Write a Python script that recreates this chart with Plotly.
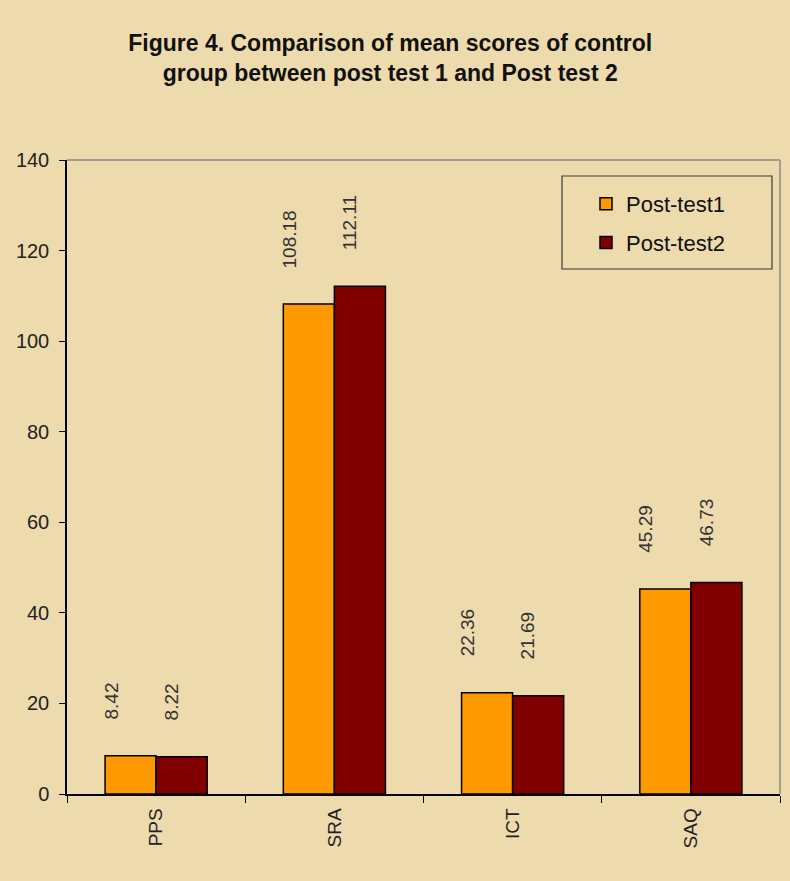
import plotly.graph_objects as go

categories = ["PPS", "SRA", "ICT", "SAQ"]
post_test1 = [8.42, 108.18, 22.36, 45.29]
post_test2 = [8.22, 112.11, 21.69, 46.73]
series_names = ["Post-test1", "Post-test2"]
series_colors = ["#FF9900", "#800000"]

W, H = 790, 881
L, R, T, B = 67, 10, 160, 87
pw = W - L - R
ph = H - T - B

def px_x(p):
    return (p - L) / pw

def px_y(p):
    return (H - B - p) / ph

fig = go.Figure()
for name, vals, col in zip(series_names, [post_test1, post_test2], series_colors):
    fig.add_trace(go.Bar(
        x=categories, y=vals, name=name, legendgroup=name,
        marker=dict(color=col, line=dict(color="#000000", width=1.5)),
    ))

ann = []
label_font = dict(family="Liberation Sans, Arial, sans-serif", size=19, color="#333333")
for i, vals in enumerate([post_test1, post_test2]):
    xs = -45 if i == 0 else 15
    for c, v in zip(categories, vals):
        ann.append(dict(
            x=c, y=v, xref="x", yref="y", text=f"{v:.2f}", showarrow=False,
            textangle=-90, yanchor="bottom", xanchor="center",
            xshift=xs, yshift=34, font=label_font,
        ))

shapes = [
    dict(type="line", xref="paper", yref="paper", x0=0, x1=1, y0=1, y1=1,
         line=dict(color="#8a8a8a", width=1.5)),
    dict(type="line", xref="paper", yref="paper", x0=1, x1=1, y0=0, y1=1,
         line=dict(color="#8a8a8a", width=1.5)),
    dict(type="rect", xref="paper", yref="paper",
         x0=px_x(562), x1=px_x(772), y0=px_y(269), y1=px_y(176),
         line=dict(color="#3a3a3a", width=1.2)),
]

fig.update_layout(
    width=W, height=H,
    margin=dict(l=L, r=R, t=T, b=B, pad=0),
    paper_bgcolor="#EEDBAD",
    plot_bgcolor="rgba(0,0,0,0)",
    barmode="group", bargap=0.427, bargroupgap=0,
    title=dict(
        text="Figure 4. Comparison of mean scores of control<br>group between post test 1 and Post test 2",
        x=0.494, xanchor="center", y=1 - 51 / H, yanchor="middle", yref="container",
        font=dict(family="Liberation Sans, Arial, sans-serif",
                  size=23, color="#111111", weight="bold"),
    ),
    legend=dict(
        x=px_x(586), y=px_y(183), xanchor="left", yanchor="top",
        bgcolor="rgba(0,0,0,0)", borderwidth=0,
        font=dict(family="Liberation Sans, Arial, sans-serif", size=22, color="#111111"),
        tracegroupgap=7, traceorder="grouped",
    ),
    annotations=ann,
    shapes=shapes,
    xaxis=dict(
        tickangle=-90, tickson="boundaries", ticks="outside", ticklen=7,
        tickcolor="#000000", tickwidth=1.2,
        showline=True, linecolor="#000000", linewidth=1.5,
        tickfont=dict(family="Liberation Sans, Arial, sans-serif", size=19, color="#222222"),
        showgrid=False, ticklabelstandoff=5,
    ),
    yaxis=dict(
        range=[0, 140], dtick=20, ticks="outside", ticklen=6,
        tickcolor="#000000", tickwidth=1.2,
        showline=True, linecolor="#000000", linewidth=1.5,
        tickfont=dict(family="Liberation Sans, Arial, sans-serif", size=20, color="#222222"),
        showgrid=False, zeroline=False, ticklabelstandoff=6,
    ),
)

fig.write_html("out.html")
